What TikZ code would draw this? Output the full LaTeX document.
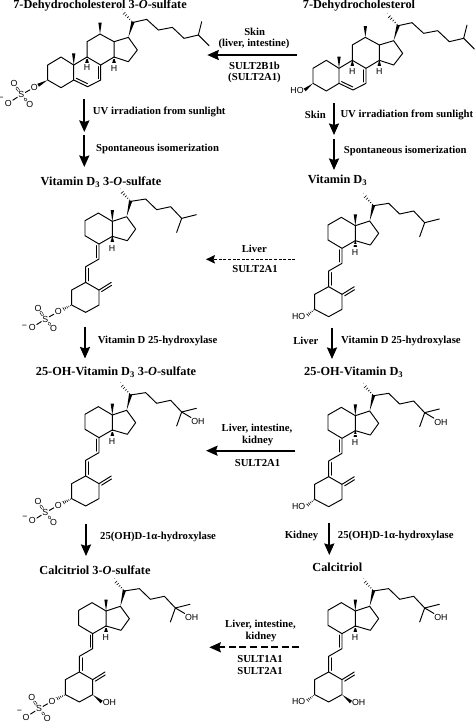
\documentclass[tikz,border=0pt]{standalone}
\usepackage{fontspec}
\setmainfont{Liberation Serif}
\newfontfamily\atomfont{Liberation Sans}
\usetikzlibrary{calc,arrows.meta}
\tikzset{
  mol/.style={line width=0.95pt,line cap=round,line join=round},
  atom/.style={font=\atomfont\fontsize{8.8}{9}\selectfont,inner sep=0.6pt,text=black},
  title/.style={font=\bfseries\fontsize{12.3}{13}\selectfont,inner sep=0pt},
  lab/.style={font=\bfseries\fontsize{10.7}{12}\selectfont,inner sep=0pt},
  react/.style={line width=2pt,-{Stealth[length=11.5pt,width=10pt,inset=1.5pt]}},
  reactthin/.style={line width=0.9pt,dash pattern=on 3pt off 1.6pt,-{Stealth[length=9pt,width=8.5pt,inset=1.5pt]}},
  reactdash/.style={line width=2pt,dash pattern=on 7pt off 3.6pt,-{Stealth[length=11.5pt,width=10pt,inset=1.5pt]}},
}
% offsets below are in the scope's 3x units
\newcommand{\wedgebond}[2]{\coordinate (wa) at #1; \coordinate (wb) at #2;
  \fill ($(wa)!.02!(wb)$) -- ($(wb)!5pt!90:(wa)$) -- ($(wb)!5pt!-90:(wa)$) -- cycle;}
\newcommand{\hashbond}[2]{\coordinate (wa) at #1; \coordinate (wb) at #2;
  \foreach \hp/\hw in {.12/1,.3/1.8,.48/2.7,.66/3.6,.84/4.5,1/5.4}{
    \draw[line width=.6pt] ($(wa)!\hp!(wb)!\hw pt!90:(wb)$) -- ($(wa)!\hp!(wb)!\hw pt!-90:(wb)$);}}
\newcommand{\dblbond}[3]{\coordinate (wa) at #1; \coordinate (wb) at #2;
  \draw ($(wa)!.1!(wb)!8pt!#3:(wb)$) -- ($(wb)!.1!(wa)!8pt!-#3:(wa)$);}
\newcommand{\sulfate}[4]{
  \node[atom] (oe) at #1 {O};
  \node[atom] (su) at ($(oe)+(-39,22)$) {S};
  \node[atom] (oa) at ($(oe)+(-61,-11)$) {O};
  \node[atom] (ob) at ($(oe)+(-14,51)$) {O};
  \node[atom] (om) at ($(oe)+(-78,47)$) {O};
  \node[atom] (mi) at ($(om)+#4$) {\textminus};
  \draw (oe) -- (su);
  \draw (su) -- (om);
  \draw[double,double distance=1.3pt,line width=.6pt] (su) -- (oa);
  \draw[double,double distance=1.3pt,line width=.6pt] (su) -- (ob);
  \coordinate (c3) at #2;
  #3{(c3)}{($(oe)!13pt!(c3)$)}
}
\newcommand{\sterol}[4]{\begin{scope}[shift={(#1,#2)},scale=1/3,mol,name prefix=#3-]
  \draw (228,250) -- (228,205) -- (268,181) -- (306,205) -- (306,250) -- (268,273) -- cycle;
  \draw (306,250) -- (348,270) -- (387,250) -- (387,205) -- (346,181) -- (306,205);
  \dblbond{(306,250)}{(348,270)}{90}
  \dblbond{(387,250)}{(387,205)}{90}
  \draw (346,181) -- (346,135) -- (385,112) -- (427,135) -- (427,181) -- (387,205);
  \draw (427,135) -- (470,122) -- (497,160) -- (470,195) -- (427,181);
  \wedgebond{(385,112)}{(385,78)}
  \wedgebond{(306,205)}{(306,170)}
  \hashbond{(346,181)}{(346,199)}
  \hashbond{(427,181)}{(427,199)}
  \node[atom] (h9) at (346,213) {H};
  \node[atom] (h14) at (427,215) {H};
  \wedgebond{(470,122)}{(484,75)}
  \hashbond{(484,77)}{(452,45)}
  \draw (484,77) -- (525,68) -- (560,100) -- (602,92) -- (637,125) -- (680,115) -- (690,75);
  \draw (680,115) -- (712,147);
  #4
\end{scope}}
\newcommand{\seco}[4]{\begin{scope}[shift={(#1,#2)},scale=1/3,mol,name prefix=#3-]
  \draw (233,403) -- (233,358) -- (275,335) -- (315,358) -- (315,403) -- (275,425) -- cycle;
  \draw (275,335) -- (275,288) -- (315,265) -- (315,220);
  \dblbond{(275,335)}{(275,288)}{-90}
  \dblbond{(315,265)}{(315,220)}{90}
  \draw (315,358) -- (352,335);
  \dblbond{(315,358)}{(352,335)}{-90}
  \draw (315,220) -- (273,195) -- (273,150) -- (313,127) -- (355,152) -- (355,197) -- (315,220);
  \draw (355,152) -- (398,138) -- (425,175) -- (400,210) -- (355,197);
  \wedgebond{(355,152)}{(355,118)}
  \hashbond{(355,197)}{(355,216)}
  \node[atom] (h14) at (354,232) {H};
  \wedgebond{(398,138)}{(410,90)}
  \hashbond{(410,92)}{(380,60)}
  \draw (410,92) -- (455,85) -- (488,117) -- (530,108) -- (563,143) -- (607,132);
  \draw (563,143) -- (548,185);
  #4
\end{scope}}
\newcommand{\hydroxyl}{\node[atom] (oh) at (612,172) {OH}; \draw (563,143) -- (oh);}
\newcommand{\seqho}{\node[atom] (ho) at (185,423) {HO}; \coordinate (c3) at (233,403); \hashbond{(c3)}{(ho.east)}}
\newcommand{\oneoh}{\node[atom] (oh1) at (365,425) {OH}; \wedgebond{(315,403)}{(oh1.west)}}
\begin{document}
\begin{tikzpicture}[x=1pt,y=-1pt]
\useasboundingbox (0,0) rectangle (474,723);
\sterol{-28.3}{-3.3}{dhcs}{\sulfate{(188,272)}{(228,250)}{\wedgebond}{(-22,-12)}}
\sterol{237}{0}{dhc}{\node[atom] (ho) at (180,270) {HO}; \wedgebond{(228,250)}{(ho.east)}}
\seco{-6}{170.7}{d3s}{\sulfate{(193,423)}{(233,403)}{\hashbond}{(-24,-2)}}
\seco{237}{175}{d3}{\seqho}
\seco{-6}{364.3}{ohs}{\hydroxyl\sulfate{(193,423)}{(233,403)}{\hashbond}{(-22,-10)}}
\seco{237}{365}{oh}{\hydroxyl\seqho}
\seco{-12.3}{560.3}{cals}{\hydroxyl\oneoh\sulfate{(193,423)}{(233,403)}{\hashbond}{(-20,-15)}}
\seco{237}{560.3}{cal}{\hydroxyl\oneoh\seqho}
\node[title] (t1) at (100,5.8) {7-Dehydrocholesterol 3-\textit{O}-sulfate};
\node[title] (t2) at (359,5.8) {7-Dehydrocholesterol};
\node[title] (t3) at (101,182) {Vitamin D\textsubscript{3} 3-\textit{O}-sulfate};
\node[title] (t4) at (337.5,180.5) {Vitamin D\textsubscript{3}};
\node[title] (t5) at (116,372.5) {25-OH-Vitamin D\textsubscript{3} 3-\textit{O}-sulfate};
\node[title] (t6) at (353.7,372.5) {25-OH-Vitamin D\textsubscript{3}};
\node[title] (t7) at (95,570) {Calcitriol 3-\textit{O}-sulfate};
\node[title] (t8) at (337.3,567) {Calcitriol};
\coordinate (a1s) at (84.3,99); \coordinate (a1e) at (84.3,132);
\coordinate (a2s) at (84.3,135); \coordinate (a2e) at (84.3,167);
\coordinate (a3s) at (334,103); \coordinate (a3e) at (334,135);
\coordinate (a4s) at (334,139.3); \coordinate (a4e) at (334,170);
\coordinate (a5s) at (85,326.7); \coordinate (a5e) at (85,358.5);
\coordinate (a6s) at (332,327.7); \coordinate (a6e) at (332,359);
\coordinate (a7s) at (86,524.3); \coordinate (a7e) at (86,556);
\coordinate (a8s) at (329.3,523); \coordinate (a8e) at (329.3,555);
\foreach \n in {1,...,8}{\draw[react] (a\n s) -- (a\n e);}
\coordinate (h1s) at (297,55); \coordinate (h1e) at (207.3,55);
\coordinate (h2s) at (295.3,259.3); \coordinate (h2e) at (206,259.3);
\coordinate (h3s) at (295.3,450.7); \coordinate (h3e) at (206,450.7);
\coordinate (h4s) at (299.3,647.3); \coordinate (h4e) at (209.3,647.3);
\draw[react] (h1s) -- (h1e);
\draw[reactthin] (h2s) -- (h2e);
\draw[react] (h3s) -- (h3e);
\draw[reactdash] (h4s) -- (h4e);
\node[lab] (l1) at (254.7,32.3) {Skin};
\node[lab] (l2) at (254,44.3) {(liver, intestine)};
\node[lab] (l3) at (254.5,66) {SULT2B1b};
\node[lab] (l4) at (254.5,78) {(SULT2A1)};
\node[lab,anchor=west] (l5) at (92.7,111.7) {UV irradiation from sunlight};
\node[lab,anchor=west] (l6) at (96,149) {Spontaneous isomerization};
\node[lab,anchor=west] (l7) at (340.3,115) {UV irradiation from sunlight};
\node[lab,anchor=west] (l8) at (343.7,150.7) {Spontaneous isomerization};
\node[lab] (l9) at (315.3,115) {Skin};
\node[lab] (l10) at (254.3,249) {Liver};
\node[lab] (l11) at (255,269) {SULT2A1};
\node[lab,anchor=west] (l12) at (97.7,340.7) {Vitamin D 25-hydroxylase};
\node[lab,anchor=west] (l13) at (341,340.7) {Vitamin D 25-hydroxylase};
\node[lab] (l14) at (305.8,340.7) {Liver};
\node[lab] (l15) at (257,429) {Liver, intestine,};
\node[lab] (l16) at (257.7,440.7) {kidney};
\node[lab] (l17) at (257.5,463.3) {SULT2A1};
\node[lab,anchor=west] (l18) at (100,537.3) {25(OH)D-1α-hydroxylase};
\node[lab,anchor=west] (l19) at (337.7,535.7) {25(OH)D-1α-hydroxylase};
\node[lab] (l20) at (301.5,535.7) {Kidney};
\node[lab] (l21) at (260.5,625) {Liver, intestine,};
\node[lab] (l22) at (261,636.7) {kidney};
\node[lab] (l23) at (260,659) {SULT1A1};
\node[lab] (l24) at (260,671) {SULT2A1};
\end{tikzpicture}
\end{document}
